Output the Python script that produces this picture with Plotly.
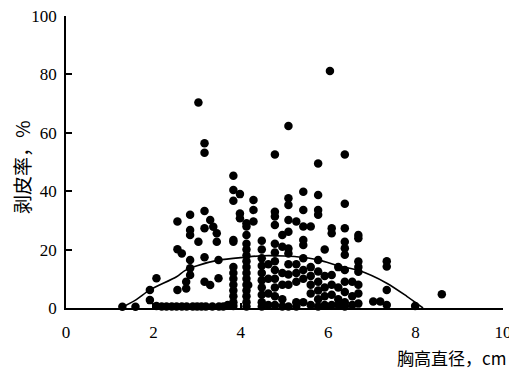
import plotly.graph_objects as go

# ---- scatter data: breast-height diameter (cm) and peeling rate (%) ----
dbh_cm = [
    1.29, 1.59,
    1.92, 1.92,
    2.07, 2.07,
    2.19, 2.30, 2.42, 2.53, 2.65, 2.76, 2.90, 3.00, 3.10, 3.20, 3.35, 3.50, 3.60, 3.70,
    2.55, 2.55, 2.55,
    2.65,
    2.75, 2.75,
    2.84, 2.84, 2.84, 2.84, 2.84, 2.84,
    3.03, 3.03,
    3.17, 3.17, 3.17, 3.17, 3.17, 3.17,
    3.30, 3.30,
    3.37,
    3.45, 3.45,
    3.49, 3.49,
    3.83, 3.83, 3.83, 3.83, 3.83, 3.83, 3.83, 3.83, 3.83, 3.83, 3.83, 3.83, 3.83,
    3.98, 3.98, 3.98,
    4.13, 4.13, 4.13, 4.13, 4.13, 4.13, 4.13, 4.13, 4.13, 4.13, 4.13, 4.13, 4.13, 4.13, 4.13,
    4.29, 4.29, 4.29,
    4.17,
    4.48, 4.48, 4.48, 4.48, 4.48, 4.48, 4.48, 4.48, 4.48, 4.48,
    4.63, 4.63, 4.63, 4.63,
    4.78, 4.78, 4.78, 4.78, 4.78, 4.78, 4.78, 4.78, 4.78, 4.78, 4.78, 4.78,
    4.95, 4.95, 4.95, 4.95, 4.95, 4.95,
    5.09, 5.09, 5.09, 5.09, 5.09, 5.09, 5.09, 5.09, 5.09, 5.09, 5.09,
    5.27, 5.27, 5.27, 5.27, 5.27, 5.27,
    5.43, 5.43, 5.43, 5.43, 5.43, 5.43, 5.43, 5.43, 5.43,
    5.60, 5.60, 5.60, 5.60, 5.60, 5.60,
    5.77, 5.77, 5.77, 5.77, 5.77, 5.77, 5.77, 5.77, 5.77, 5.77,
    5.92, 5.92, 5.92, 5.92, 5.92,
    6.04,
    6.08, 6.08, 6.08, 6.08, 6.08, 6.08,
    6.23, 6.23, 6.23, 6.23,
    6.38, 6.38, 6.38, 6.38, 6.38, 6.38, 6.38, 6.38, 6.38, 6.38, 6.38,
    6.55, 6.55, 6.55,
    6.69, 6.69, 6.69, 6.69, 6.69, 6.69, 6.69, 6.69,
    7.03, 7.19,
    7.34, 7.34, 7.34, 7.34,
    7.99, 8.60,
]
peel_pct = [
    0.4, 0.4,
    2.7, 6.2,
    10.2, 0.7,
    0.5, 0.5, 0.5, 0.5, 0.5, 0.5, 0.5, 0.5, 0.5, 0.5, 0.5, 0.5, 0.5, 1.0,
    29.6, 20.1, 6.2,
    18.7,
    9.0, 6.7,
    31.9, 26.7, 25.0, 16.4, 13.6, 11.3,
    22.7, 70.4,
    56.4, 53.2, 33.2, 27.3, 17.4, 9.0,
    30.1, 7.9,
    27.8,
    25.6, 22.7,
    16.4, 10.2,
    45.3, 40.4, 36.7, 23.3, 22.7, 14.0, 12.0, 10.0, 8.0, 6.0, 4.0, 2.0, 0.7,
    39.0, 32.4, 30.7,
    29.0, 27.9, 25.0, 22.0, 20.0, 18.0, 16.0, 14.0, 12.0, 10.0, 8.0, 6.0, 4.0, 2.0, 0.5,
    37.0, 33.6, 29.6,
    7.9,
    23.0, 20.0, 17.0, 14.5, 12.0, 9.5, 7.0, 4.5, 2.0, 0.5,
    15.0, 10.0, 5.0, 1.0,
    52.6, 33.0, 31.3, 28.4, 22.0, 19.0, 16.0, 13.0, 10.0, 7.0, 4.0, 1.0,
    25.0, 21.0, 12.0, 8.0, 3.0, 0.5,
    62.3, 37.6, 35.3, 30.1, 26.1, 20.4, 18.7, 15.0, 11.5, 8.0, 0.5,
    29.6, 15.0, 12.0, 9.0, 2.0, 0.5,
    39.8, 33.6, 27.9, 23.3, 21.6, 17.0, 13.0, 10.0, 2.0,
    27.9, 14.0, 11.0, 8.0, 5.0, 1.0,
    49.5, 38.7, 33.6, 31.9, 16.4, 12.5, 9.0, 6.0, 3.0, 0.5,
    20.0, 11.0, 7.0, 4.0, 1.0,
    81.2,
    27.3, 25.6, 11.3, 8.0, 4.5, 1.0,
    14.0, 7.0, 3.0, 1.0,
    52.6, 35.7, 27.3, 22.7, 20.5, 18.2, 13.0, 9.0, 5.5, 2.0, 0.5,
    9.0, 4.0, 1.0,
    25.0, 23.9, 15.9, 14.0, 12.4, 8.0, 5.0, 1.5,
    2.2, 2.2,
    16.0, 14.2, 6.2, 1.0,
    0.7, 4.7,
]

# ---- fitted curve ----
curve_x = [1.25, 1.60, 1.92, 2.53, 2.72, 3.00, 3.49, 4.10, 4.50, 5.00, 5.43, 5.80, 6.27, 6.69, 7.34, 7.80, 8.17]
curve_y = [0.0, 2.8, 6.2, 10.7, 12.8, 14.5, 16.4, 17.4, 17.9, 17.8, 17.3, 16.4, 14.3, 12.9, 8.5, 4.0, 0.0]

x_ticks = [0, 2, 4, 6, 8, 10]
y_ticks = [0, 20, 40, 60, 80, 100]

x_title = "胸高直径，cm"
y_title = "剥皮率，%"

num_font = '"Liberation Serif", "Times New Roman", serif'
cjk_font = '"Noto Sans CJK SC", "Liberation Serif", serif'

fig = go.Figure()
fig.add_trace(go.Scatter(
    x=curve_x, y=curve_y, mode="lines",
    line=dict(color="black", width=1.6, shape="spline", smoothing=0.8),
    cliponaxis=False, hoverinfo="skip",
))
fig.add_trace(go.Scatter(
    x=dbh_cm, y=peel_pct, mode="markers",
    marker=dict(color="black", size=8.5, line=dict(width=0)),
    cliponaxis=False,
))

# the page body adds an 8px offset, so the figure is 8px smaller and margins compensate
fig.update_layout(
    width=509, height=363,
    margin=dict(l=58, r=14, t=8, b=63, autoexpand=False),
    paper_bgcolor="white", plot_bgcolor="white",
    showlegend=False,
    font=dict(family=num_font, size=17, color="black"),
)
fig.update_xaxes(
    range=[0, 10], tickvals=x_ticks, ticktext=[str(v) for v in x_ticks],
    showgrid=False, zeroline=False, showline=True, linecolor="black", linewidth=1.5,
    ticks="inside", ticklen=5, tickwidth=1.5, tickcolor="black",
    ticklabelstandoff=8, tickfont=dict(family=num_font, size=17),
    ticklabeloverflow="allow", automargin=False,
)
fig.update_yaxes(
    range=[0, 100], tickvals=y_ticks, ticktext=[str(v) for v in y_ticks],
    showgrid=False, zeroline=False, showline=True, linecolor="black", linewidth=1.5,
    ticks="inside", ticklen=6, tickwidth=1.5, tickcolor="black",
    ticklabelstandoff=4, tickfont=dict(family=num_font, size=17),
    ticklabeloverflow="allow", automargin=False,
)

fig.add_annotation(
    text=y_title, xref="paper", yref="paper",
    x=-0.1007, y=0.483, xanchor="center", yanchor="middle",
    showarrow=False, textangle=-90,
    font=dict(family=cjk_font, size=19, color="black"),
)
fig.add_annotation(
    text=x_title, xref="paper", yref="paper",
    x=1.011, y=-0.168, xanchor="right", yanchor="middle",
    showarrow=False,
    font=dict(family=cjk_font, size=17, color="black"),
)

fig.write_html("out.html")
